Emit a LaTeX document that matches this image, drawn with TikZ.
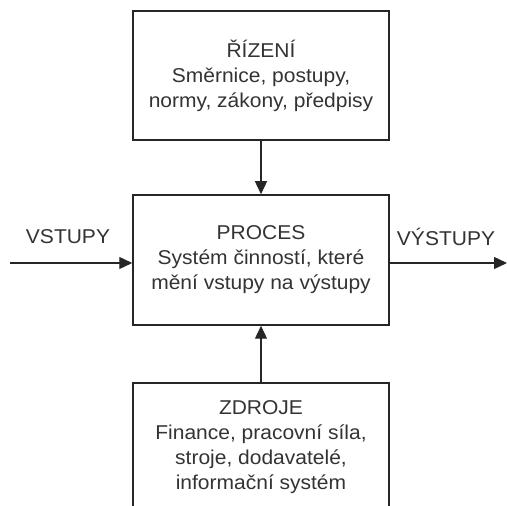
\documentclass[tikz,border=0pt]{standalone}
\usepackage{fontspec}
\setmainfont{Liberation Sans}[FakeStretch=1.05]
\usetikzlibrary{arrows.meta}

\tikzset{
  blok/.style={draw=black!85,line width=1.5pt,minimum width=256pt,minimum height=129pt,
    align=center,inner sep=0pt,font=\fontsize{20pt}{25pt}\selectfont,text=black!80},
  sipka/.style={line width=1.3pt,draw=black!85,-{Triangle[length=13pt,width=12pt]}},
  popis/.style={font=\fontsize{20pt}{25pt}\selectfont,text=black!80,inner sep=0pt}
}

\begin{document}
\begin{tikzpicture}[x=1pt,y=1pt]

\clip (0,0) rectangle (507,506) ;
\useasboundingbox (0,0) rectangle (507,506) ;

% bloky

\node[blok] (rizeni) at (261,430.5) {ŘÍZENÍ\\Směrnice, postupy,\\normy, zákony, předpisy} ;
\node[blok,minimum height=130pt] (proces) at (261,246) {PROCES\\Systém činností, které\\mění vstupy na výstupy} ;
\node[blok] (zdroje) at (261,58.5) {ZDROJE\\Finance, pracovní síla,\\stroje, dodavatelé,\\informační systém} ;

% vstupy a výstupy

\coordinate (vstup) at (10,243) ;
\coordinate (vystup) at (507,243) ;

\node[popis] (vstupy) at (68,269) {VSTUPY} ;
\node[popis] (vystupy) at (446,269) {VÝSTUPY} ;

% šipky

\draw[sipka] (rizeni.south) -- (proces.north) ;
\draw[sipka] (zdroje.north) -- (proces.south) ;
\draw[sipka] (vstup) -- (proces.west |- vstup) ;
\draw[sipka] (proces.east |- vystup) -- (vystup) ;

\end{tikzpicture}
\end{document}
